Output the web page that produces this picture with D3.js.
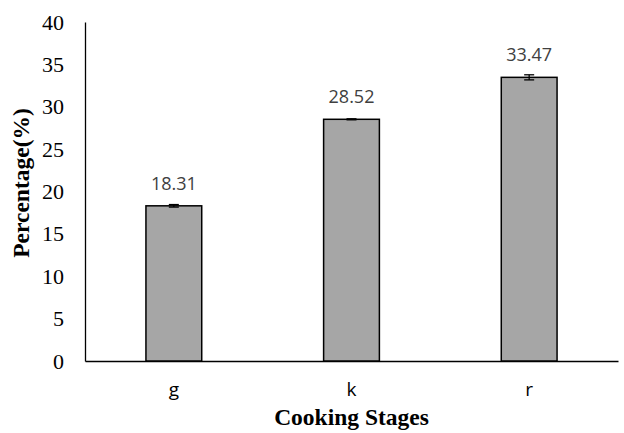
<!DOCTYPE html>
<html>
<head>
<meta charset="utf-8">
<script src="https://cdn.jsdelivr.net/npm/d3@7"></script>
<style>
  body { margin: 0; background: #fff; }
  svg { display: block; }
</style>
</head>
<body>
<div id="box"></div>
<script>
// chart data
var stages = ["g", "k", "r"];
var values = [18.31, 28.52, 33.47];
var errors = [0.15, 0.06, 0.3];
var yTicks = [0, 5, 10, 15, 20, 25, 30, 35, 40];

var width = 624, height = 433;
var margin = { left: 85, right: 6, top: 22, bottom: 72 };

var svg = d3.select("#box")
    .append("svg")
    .attr("width", width)
    .attr("height", height);

var x = d3.scaleBand()
    .domain(stages)
    .range([margin.left, width - margin.right])
    .paddingInner(0.686)
    .paddingOuter(0.343);

var y = d3.scaleLinear()
    .domain([0, 40])
    .range([height - margin.bottom, margin.top]);

// y axis
var yAxis = svg.append("g")
    .attr("transform", "translate(" + margin.left + ",0)")
    .call(d3.axisLeft(y).tickValues(yTicks).tickSize(0).tickPadding(21));
yAxis.select(".domain").attr("stroke", "#000").attr("stroke-width", 1.3);
yAxis.selectAll("text")
    .attr("font-family", "'Liberation Serif', 'Times New Roman', serif")
    .attr("font-size", 22)
    .attr("fill", "#000");

// x axis
var xAxis = svg.append("g")
    .attr("transform", "translate(0," + y(0) + ")")
    .call(d3.axisBottom(x).tickSize(0).tickPadding(22));
xAxis.select(".domain").attr("stroke", "#000").attr("stroke-width", 1.3);
xAxis.selectAll("text")
    .attr("font-family", "'Open Sans', 'Liberation Sans', sans-serif")
    .attr("font-size", 19)
    .attr("fill", "#000");

// bars
svg.selectAll(".bar")
    .data(values)
    .enter()
    .append("rect")
    .attr("class", "bar")
    .attr("x", function(d, i) { return x(stages[i]); })
    .attr("y", function(d) { return y(d); })
    .attr("width", x.bandwidth())
    .attr("height", function(d) { return y(0) - y(d); })
    .attr("fill", "#a6a6a6")
    .attr("stroke", "#000")
    .attr("stroke-width", 1.5);

// error bars
var err = svg.selectAll(".err")
    .data(values)
    .enter()
    .append("g")
    .attr("class", "err")
    .attr("stroke", "#000")
    .attr("stroke-width", 1.3);

err.append("line")
    .attr("x1", function(d, i) { return x(stages[i]) + x.bandwidth() / 2; })
    .attr("x2", function(d, i) { return x(stages[i]) + x.bandwidth() / 2; })
    .attr("y1", function(d, i) { return y(d - errors[i]); })
    .attr("y2", function(d, i) { return y(d + errors[i]); });
[-1, 1].forEach(function(s) {
    err.append("line")
        .attr("x1", function(d, i) { return x(stages[i]) + x.bandwidth() / 2 - 5; })
        .attr("x2", function(d, i) { return x(stages[i]) + x.bandwidth() / 2 + 5; })
        .attr("y1", function(d, i) { return y(d + s * errors[i]); })
        .attr("y2", function(d, i) { return y(d + s * errors[i]); });
});

// data labels
svg.selectAll(".lbl")
    .data(values)
    .enter()
    .append("text")
    .attr("class", "lbl")
    .attr("x", function(d, i) { return x(stages[i]) + x.bandwidth() / 2; })
    .attr("y", function(d) { return y(d) - 16; })
    .attr("text-anchor", "middle")
    .attr("font-family", "'Open Sans', 'Liberation Sans', sans-serif")
    .attr("font-size", 18)
    .attr("fill", "#404040")
    .text(function(d) { return d.toFixed(2); });

// axis titles
svg.append("text")
    .attr("x", (margin.left + width - margin.right) / 2)
    .attr("y", 425)
    .attr("text-anchor", "middle")
    .attr("font-family", "'Liberation Serif', 'Times New Roman', serif")
    .attr("font-weight", "bold")
    .attr("font-size", 23.5)
    .text("Cooking Stages");

svg.append("text")
    .attr("transform", "translate(29,183) rotate(-90)")
    .attr("text-anchor", "middle")
    .attr("font-family", "'Liberation Serif', 'Times New Roman', serif")
    .attr("font-weight", "bold")
    .attr("font-size", 23.5)
    .text("Percentage(%)");
</script>
</body>
</html>
